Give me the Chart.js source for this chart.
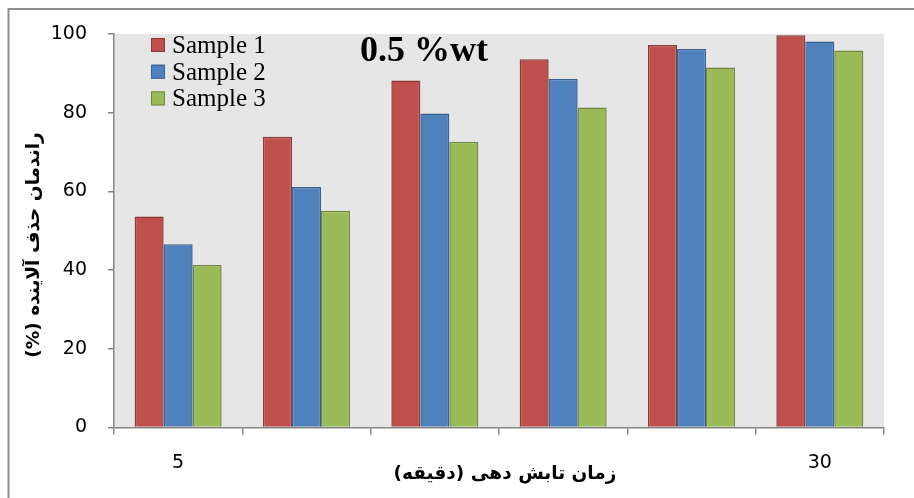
<!DOCTYPE html>
<html>
<head>
<meta charset="utf-8">
<script src="https://cdn.jsdelivr.net/npm/chart.js@4.4.1/dist/chart.umd.min.js"></script>
<style>
  html, body { margin: 0; padding: 0; background: #fff; }
  #wrap { width: 914px; height: 498px; }
</style>
</head>
<body>
<div id="wrap"><canvas id="c" width="914" height="498"></canvas></div>
<script>
// Irradiation time categories (only the end points carry a label)
const categories = ['5', '', '', '', '', '30'];
// Removal efficiency (%) per sample
const sample1 = [53.6, 73.9, 88.2, 93.6, 97.2, 99.7];
const sample2 = [46.6, 61.1, 79.8, 88.6, 96.2, 98.1];
const sample3 = [41.3, 55.1, 72.6, 81.3, 91.5, 95.8];
const seriesNames = ['Sample 1', 'Sample 2', 'Sample 3'];
const yTicks = [0, 20, 40, 60, 80, 100];
const headline = '0.5 %wt';
const xTitle = '\u200Fزمان تابش دهی (دقیقه)\u200F';
const yTitle = '\u200Fراندمان حذف آلاینده (%)\u200F';

const fills = ['#C0504D', '#4F81BD', '#9BBB59'];
const edges = ['#8C3A37', '#3A6191', '#71893F'];
const axisGray = '#868686';
const tickFont = { family: 'DejaVu Sans', size: 19 };
const titleFont = 'bold 18.5px "DejaVu Sans", sans-serif';

// Page frame and gray plot background
const backdrop = {
  id: 'backdrop',
  beforeDraw(chart) {
    const { ctx, chartArea: a } = chart;
    ctx.save();
    ctx.fillStyle = '#fff';
    ctx.fillRect(0, 0, chart.width, chart.height);
    ctx.fillStyle = '#E6E6E6';
    ctx.fillRect(a.left, a.top, a.right - a.left, a.bottom - a.top);
    ctx.strokeStyle = '#8f8f8f';
    ctx.lineWidth = 2;
    ctx.beginPath();
    ctx.moveTo(8.5, chart.height);
    ctx.lineTo(8.5, 9);
    ctx.lineTo(chart.width, 9);
    ctx.stroke();
    ctx.restore();
  }
};

// Legend box inside the plot, the headline text and both axis titles
const overlay = {
  id: 'overlay',
  afterDraw(chart) {
    const { ctx } = chart;
    ctx.save();
    chart.data.datasets.forEach((ds, i) => {
      const cy = 45 + i * 26.7;
      ctx.fillStyle = ds.backgroundColor;
      ctx.fillRect(151, cy - 7, 14, 14);
      ctx.strokeStyle = ds.borderColor;
      ctx.lineWidth = 1;
      ctx.strokeRect(151.5, cy - 6.5, 13, 13);
      ctx.fillStyle = '#000';
      ctx.font = '25px "Liberation Serif", "Times New Roman", serif';
      ctx.textAlign = 'left';
      ctx.textBaseline = 'alphabetic';
      ctx.fillText(ds.label, 172, cy + 8);
    });
    ctx.font = 'bold 36px "Liberation Serif", "Times New Roman", serif';
    ctx.fillStyle = '#000';
    ctx.fillText(headline, 360, 61);

    ctx.font = titleFont;
    ctx.textAlign = 'center';
    ctx.textBaseline = 'middle';
    ctx.fillText(xTitle, 505, 474);
    ctx.translate(34, 245);
    ctx.rotate(-Math.PI / 2);
    ctx.fillText(yTitle, 0, 0);
    ctx.restore();
  }
};

const seriesValues = [sample1, sample2, sample3];

new Chart(document.getElementById('c'), {
  type: 'bar',
  data: {
    labels: categories,
    datasets: seriesValues.map((vals, i) => ({
      label: seriesNames[i],
      data: vals,
      backgroundColor: fills[i],
      borderColor: edges[i],
      borderWidth: 1.5,
      categoryPercentage: 0.678,
      barPercentage: 1.0
    }))
  },
  options: {
    responsive: false,
    animation: false,
    devicePixelRatio: 1,
    layout: { padding: { left: 0, top: 34, right: 30, bottom: 0 } },
    plugins: {
      legend: { display: false },
      tooltip: { enabled: false },
      title: { display: false }
    },
    scales: {
      x: {
        grid: { display: true, drawOnChartArea: false, drawTicks: true, tickLength: 7, color: axisGray, lineWidth: 1.5, offset: true },
        border: { display: true, color: axisGray, width: 1.5 },
        ticks: { color: '#000', font: tickFont, padding: 17, autoSkip: false, maxRotation: 0 },
        afterFit(s) { s.height = 70.5; }
      },
      y: {
        min: 0, max: 100,
        afterBuildTicks(s) { s.ticks = yTicks.map(v => ({ value: v })); },
        grid: { display: true, drawOnChartArea: false, drawTicks: true, tickLength: 6, color: axisGray, lineWidth: 1.5 },
        border: { display: true, color: axisGray, width: 1.5 },
        ticks: { color: '#000', font: tickFont, padding: 21 },
        afterFit(s) { s.width = 114; }
      }
    }
  },
  plugins: [backdrop, overlay]
});
</script>
</body>
</html>
